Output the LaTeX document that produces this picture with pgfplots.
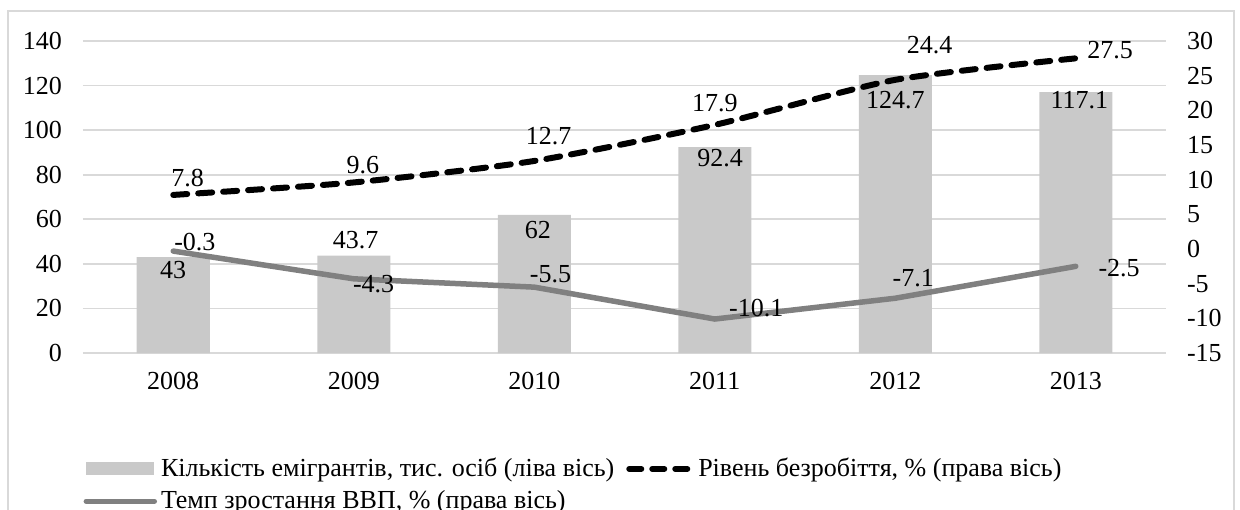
\documentclass[border=0pt]{standalone}
\usepackage{pgfplots}
\pgfplotsset{compat=1.18}
\usepackage{fontspec}
\setmainfont{Liberation Serif}
\definecolor{barc}{RGB}{201,201,201}
\definecolor{gdpc}{RGB}{128,128,128}
\definecolor{gridc}{RGB}{217,217,217}
\begin{document}
\begin{tikzpicture}
\useasboundingbox (-41.5pt,-78pt) rectangle (578.5pt,176.5pt);
\clip (-41.5pt,-78pt) rectangle (578.5pt,176.5pt);
\draw[gridc, line width=0.9pt] (-37.5pt,-100pt) rectangle (575.5pt,171pt);
\pgfplotsset{
  common/.style={
    at={(0pt,0pt)}, anchor=south west,
    scale only axis, width=541.5pt, height=156pt,
    xmin=-0.5, xmax=5.5, clip=false,
    major tick length=0pt,
    tick label style={font=\fontsize{13}{15}\selectfont},
    /pgf/number format/assume math mode=true,
    /pgf/number format/1000 sep={},
  }
}
\begin{axis}[common,
  ymin=0, ymax=140, ytick={0,20,...,140},
  xtick={0,1,2,3,4,5}, xticklabels={2008,2009,2010,2011,2012,2013},
  axis x line*=bottom, axis y line*=left,
  x axis line style={gridc, line width=0.9pt},
  y axis line style={draw=none},
  ymajorgrids, grid style={gridc, line width=0.9pt},
  yticklabel style={xshift=-7pt},
  xticklabel style={yshift=-6pt},
  legend columns=2, legend cell align=left,
  legend style={at={(-0.0054,-0.31)}, anchor=north west, draw=none, fill=none,
    font=\fontsize{13}{15}\selectfont,
    /tikz/every even column/.append style={column sep=4pt},
    row sep=1.5pt},
]
\addplot[fill=barc, draw=none, ybar, bar width=36.5pt,
  legend image code/.code={\fill[barc] (0pt,-3.25pt) rectangle (34pt,3.25pt);}]
  coordinates {(0,43) (1,43.7) (2,62) (3,92.4) (4,124.7) (5,117.1)};
\addlegendentry{Кількість емігрантів, тис. осіб (ліва вісь)}
\addlegendimage{legend image code/.code={\draw[black, line width=3pt, dash pattern=on 6pt off 5.5pt, line cap=round] (1.5pt,0pt) -- (32.5pt,0pt);}}
\addlegendentry{Рівень безробіття, \% (права вісь)}
\addlegendimage{legend image code/.code={\draw[gdpc, line width=2.75pt, line cap=round] (0pt,0pt) -- (34pt,0pt);}}
\addlegendentry{Темп зростання ВВП, \% (права вісь)}
\begin{scope}[every node/.style={font=\fontsize{13}{15}\selectfont}]
\node at (axis cs:0,37.2) {43};
\node at (axis cs:1.01,50.7) {43.7};
\node at (axis cs:2.02,55.2) {62};
\node at (axis cs:3.03,87.5) {92.4};
\node at (axis cs:4,113.5) {124.7};
\node at (axis cs:5.02,113.5) {117.1};
\end{scope}
\end{axis}
\begin{axis}[common,
  ymin=-15, ymax=30, ytick={-15,-10,...,30},
  axis y line*=right, axis x line=none,
  y axis line style={draw=none},
  yticklabel style={xshift=7pt},
  xtick=\empty,
]
\addplot[black, line width=3pt, dash pattern=on 7pt off 5.5pt, line cap=round, smooth, tension=0.4]
  coordinates {(0,7.8) (1,9.6) (2,12.7) (3,17.9) (4,24.4) (5,27.5)};
\addplot[gdpc, line width=2.75pt, line cap=round]
  coordinates {(0,-0.3) (1,-4.3) (2,-5.5) (3,-10.1) (4,-7.1) (5,-2.5)};
\begin{scope}[every node/.style={font=\fontsize{13}{15}\selectfont}]
\node at (axis cs:0.08,10.24) {7.8};
\node at (axis cs:1.05,12.11) {9.6};
\node at (axis cs:2.08,16.3) {12.7};
\node at (axis cs:3.0,21.06) {17.9};
\node at (axis cs:4.19,29.42) {24.4};
\node at (axis cs:5.19,28.7) {27.5};
\node at (axis cs:0.12,1.0) {-0.3};
\node at (axis cs:1.11,-5.05) {-4.3};
\node at (axis cs:2.09,-3.61) {-5.5};
\node at (axis cs:3.23,-8.5) {-10.1};
\node at (axis cs:4.1,-4.18) {-7.1};
\node at (axis cs:5.24,-2.74) {-2.5};
\end{scope}
\end{axis}
\end{tikzpicture}
\end{document}
